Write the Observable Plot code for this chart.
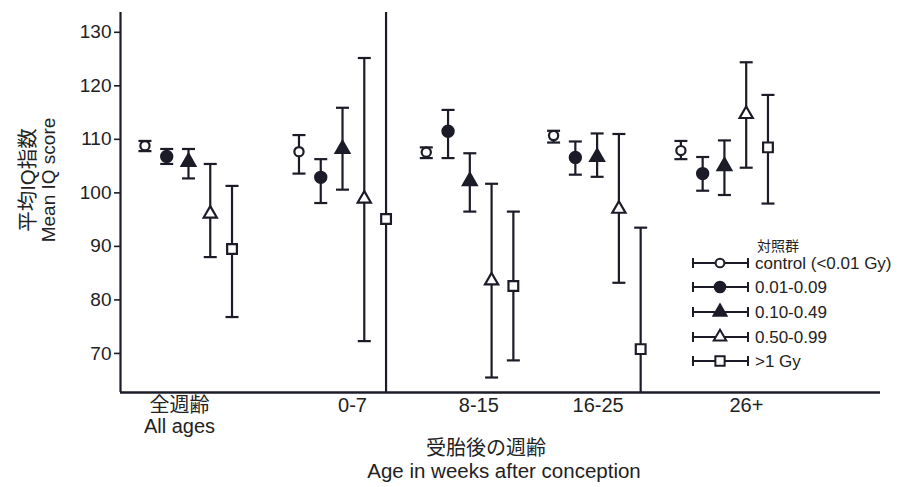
<!DOCTYPE html>
<html><head><meta charset="utf-8">
<script src="https://cdn.jsdelivr.net/npm/d3@7"></script>
<script src="https://cdn.jsdelivr.net/npm/@observablehq/plot@0.6"></script>
<style>
html,body{margin:0;padding:0;background:#fff;}
#chart{width:900px;height:487px;position:relative;}
svg text{font-family:"Liberation Sans",Arial,"Noto Sans CJK JP",sans-serif;}
</style></head><body><div id="chart"></div>
<script>
// ---- data ----
const groups = ["全週齢\nAll ages", "0-7", "8-15", "16-25", "26+"];
const series = ["control (<0.01 Gy)", "0.01-0.09", "0.10-0.49", "0.50-0.99", ">1 Gy"];
const yTicks = [70, 80, 90, 100, 110, 120, 130];

const meanControl = [108.8, 107.7, 107.6, 110.7, 107.9];
const mean001 = [106.8, 102.9, 111.5, 106.6, 103.6];
const mean010 = [105.8, 108.2, 102.2, 106.7, 105.0];
const mean050 = [96.1, 98.9, 83.6, 97.0, 114.7];
const mean1Gy = [89.5, 95.1, 82.6, 70.8, 108.5];

const loControl = [107.8, 103.6, 106.5, 109.4, 106.3];
const hiControl = [109.7, 110.8, 108.5, 111.6, 109.7];
const lo001 = [105.4, 98.1, 106.5, 103.4, 100.4];
const hi001 = [108.2, 106.3, 115.5, 109.6, 106.7];
const lo010 = [102.7, 100.6, 96.5, 103.0, 99.6];
const hi010 = [108.2, 115.9, 107.4, 111.1, 109.8];
const lo050 = [88.0, 72.3, 65.5, 83.2, 104.7];
const hi050 = [105.4, 125.2, 101.7, 111.0, 124.4];
const lo1Gy = [76.8, 55, 68.7, 55, 98.0];   // 0-7 and 16-25 run off the axis
const hi1Gy = [101.3, 140, 96.5, 93.5, 118.3]; // 0-7 runs off the top

// ---- build table ----
const means = [meanControl, mean001, mean010, mean050, mean1Gy];
const los = [loControl, lo001, lo010, lo050, lo1Gy];
const his = [hiControl, hi001, hi010, hi050, hi1Gy];
const groupCenter = i => (i === 0 ? 0 : i + 0.21);
const step = 0.171;
const rows = [];
series.forEach((s, si) => groups.forEach((g, gi) => rows.push({
  series: s, si, group: g, gi,
  x: groupCenter(gi) + (si - 2) * step,
  mean: means[si][gi], lo: los[si][gi], hi: his[si][gi]
})));
// layout only: small horizontal nudges of the category labels (px)
const labelNudge = [-9, 10, 9, 1, 22];
const groupRows = groups.map((g, gi) => ({label: g, x: groupCenter(gi), nudge: labelNudge[gi]}));

const ink = "#1b1c28";
const xDomain = [-0.534, 5.436];
const yDomain = [62.7, 133.7];
const cap = {draw(ctx) { ctx.moveTo(-6.5, 0); ctx.lineTo(6.5, 0); }};
const styles = [
  {symbol: "circle", fill: "white", r: 4.6},
  {symbol: "circle", fill: ink, r: 5.6},
  {symbol: "triangle", fill: ink, r: 5.1},
  {symbol: "triangle", fill: "white", r: 4.9},
  {symbol: "square", fill: "white", r: 5.5}
];

const chart = Plot.plot({
  width: 900, height: 487,
  marginLeft: 120, marginRight: 20, marginTop: 12, marginBottom: 95,
  style: {background: "white", color: ink, overflow: "visible"},
  x: {domain: xDomain, axis: null},
  y: {domain: yDomain, axis: null},
  marks: [
    Plot.ruleX(rows, {x: "x", y1: "lo", y2: "hi", stroke: ink, strokeWidth: 2.2, clip: true}),
    Plot.dot(rows, {x: "x", y: "lo", symbol: cap, r: 5, fill: "none", stroke: ink, strokeWidth: 2.2, clip: true}),
    Plot.dot(rows, {x: "x", y: "hi", symbol: cap, r: 5, fill: "none", stroke: ink, strokeWidth: 2.2, clip: true}),
    ...styles.map((st, si) => Plot.dot(rows.filter(d => d.si === si), {
      x: "x", y: "mean", symbol: st.symbol, r: st.r, fill: st.fill,
      stroke: ink, strokeWidth: 2.2
    })),
    Plot.axisY(yTicks, {tickSize: 6, tickPadding: 3, fontSize: 19, label: null, stroke: ink, strokeWidth: 1.6, fill: "#222"}),
    Plot.ruleX([xDomain[0]], {stroke: ink, strokeWidth: 2.2}),
    Plot.ruleY([yDomain[0]], {stroke: ink, strokeWidth: 2.5}),
    ...groupRows.map(d => Plot.text([d], {x: "x", text: "label", frameAnchor: "bottom", dy: 5, dx: d.nudge,
      lineAnchor: "top", fontSize: 20, lineHeight: 1.05, fill: "#222"}))
  ]
});
document.getElementById("chart").appendChild(chart);

// ---- titles and legend ----
const svg = d3.select(chart);
const yt = svg.append("g").attr("fill", "#222").attr("text-anchor", "middle");
yt.append("text").attr("transform", "translate(27,180) rotate(-90)").attr("dominant-baseline", "central").attr("font-size", 20.5).text("平均IQ指数");
yt.append("text").attr("transform", "translate(48,180) rotate(-90)").attr("dominant-baseline", "central").attr("font-size", 19).text("Mean IQ score");
const xt = svg.append("g").attr("fill", "#222").attr("text-anchor", "middle").attr("dominant-baseline", "central");
xt.append("text").attr("x", 486).attr("y", 448).attr("font-size", 20).text("受胎後の週齢");
xt.append("text").attr("x", 504).attr("y", 470).attr("font-size", 20.5).text("Age in weeks after conception");

const legendY = [263, 287, 312, 337, 361];
const lg = svg.append("g").attr("text-anchor", "start");
const symGen = [d3.symbolCircle, d3.symbolCircle, d3.symbolTriangle, d3.symbolTriangle, d3.symbolSquare];
series.forEach((s, si) => {
  const y = legendY[si];
  const g = lg.append("g").attr("transform", `translate(0,${y})`);
  g.append("path").attr("d", "M693,0H748M693,-5V5M748,-5V5").attr("stroke", ink).attr("stroke-width", 2).attr("fill", "none");
  const st = styles[si];
  g.append("path").attr("transform", "translate(720,0)")
    .attr("d", d3.symbol(symGen[si], Math.PI * (st.r * 0.95) ** 2)())
    .attr("fill", st.fill).attr("stroke", ink).attr("stroke-width", 2);
  g.append("text").attr("x", 755).attr("y", 0).attr("dominant-baseline", "central")
    .attr("font-size", 17).attr("fill", "#222").text(s);
});
lg.append("text").attr("x", 757).attr("y", 246).attr("dominant-baseline", "central")
  .attr("font-size", 14).attr("fill", "#222").text("対照群");
</script></body></html>
